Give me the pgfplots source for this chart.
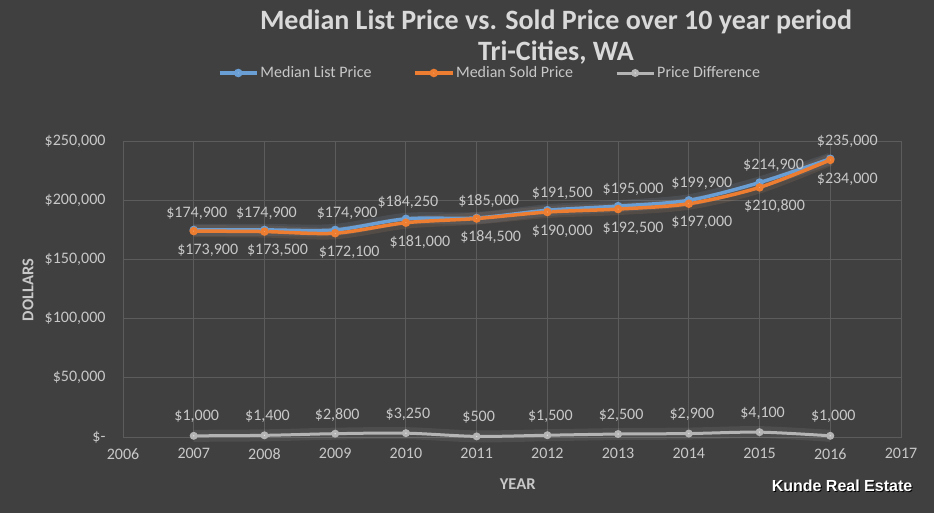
\documentclass[border=0pt]{standalone}
\usepackage{pgfplots}
\pgfplotsset{compat=1.18}
\usepackage{pgfplotstable}
\usepackage{fontspec}
\setmainfont{Carlito}
\newfontfamily\arialfont{Liberation Sans}
\definecolor{bg}{HTML}{404040}
\definecolor{gridc}{HTML}{5C5C5C}
\definecolor{txt}{HTML}{C8C8C8}
\definecolor{ttl}{HTML}{D9D9D9}
\definecolor{listc}{HTML}{6A9FD6}
\definecolor{soldc}{HTML}{ED7D31}
\definecolor{diffc}{HTML}{B4B4B4}
\definecolor{listm}{HTML}{D4E3F4}
\definecolor{soldm}{HTML}{FAD2B6}
\definecolor{diffm}{HTML}{E6E6E6}

\pgfplotstableread{
year list ldx sold sdx diff ddx
2007 174900 3 173900 14 1000 3
2008 174900 2 173500 13 1400 3
2009 174900 12 172100 14 2800 2
2010 184250 2 181000 14 3250 2
2011 185000 12 184500 14 500 2
2012 191500 15 190000 15 1500 3
2013 195000 15 192500 15 2500 3
2014 199900 13 197000 13 2900 3
2015 214900 14 210800 15 4100 3
2016 235000 17 234000 17 1000 3
}\datatable

\begin{document}
\begin{tikzpicture}
\fill[bg] (0pt,0pt) rectangle (934pt,513pt);
\useasboundingbox (0pt,0pt) rectangle (934pt,513pt);
\begin{axis}[
  at={(123pt,76pt)}, anchor=south west,
  scale only axis, width=778pt, height=296pt,
  xmin=2006, xmax=2017, ymin=0, ymax=250000,
  clip=false,
  scaled y ticks=false,
  axis background/.style={fill=bg},
  xtick={2006,2007,2008,2009,2010,2011,2012,2013,2014,2015,2016,2017},
  xticklabels={2006,2007,2008,2009,2010,2011,2012,2013,2014,2015,2016,2017},
  ytick={0,50000,100000,150000,200000,250000},
  yticklabels={{\$-},{\$50,000},{\$100,000},{\$150,000},{\$200,000},{\$250,000}},
  major tick length=0pt,
  grid=major,
  major grid style={color=gridc, line width=0.9pt},
  axis line style={color=gridc, line width=0.9pt},
  tick label style={font=\fontsize{16}{16}\selectfont, text=txt},
  yticklabel style={xshift=-14pt},
  xticklabel style={yshift=-8pt},
  xlabel={YEAR},
  xlabel style={at={(axis description cs:0.5073,0)}, anchor=center, yshift=-47pt,
    font=\bfseries\fontsize{16.5}{16.5}\selectfont, text=txt},
  ylabel={DOLLARS},
  ylabel style={at={(axis description cs:-0.122,0.497)}, anchor=center,
    font=\bfseries\fontsize{16.5}{16.5}\selectfont, text=txt},
  title={Median List Price vs. Sold Price over 10 year period\\Tri-Cities, WA},
  title style={at={(axis description cs:0.5566,1.33)}, anchor=center, align=center,
    font=\bfseries\fontsize{28}{31}\selectfont, text=ttl},
  legend columns=3,
  legend style={at={(axis description cs:0.4717,1.2297)}, anchor=center,
    draw=none, fill=none, text=txt, font=\fontsize{16}{16}\selectfont,
    /tikz/every even column/.append style={column sep=40pt}},
  legend image code/.code={\draw[mark repeat=2,mark phase=2,#1] plot coordinates {(0pt,0pt) (18.5pt,0pt) (37pt,0pt)};},
  every node near coord/.append style={font=\fontsize{16}{16}\selectfont, text=txt, anchor=center},
]
% glow layers
\addplot[forget plot, smooth, listc!60!white, opacity=0.10, line width=12pt] table[x=year,y=list] {\datatable};
\addplot[forget plot, smooth, soldc!60!white, opacity=0.10, line width=12pt] table[x=year,y=sold] {\datatable};
\addplot[forget plot, smooth, white, opacity=0.07, line width=12pt] table[x=year,y=diff] {\datatable};

\addplot[smooth, listc, line width=3.5pt, mark=*, mark size=2.4pt,
  mark options={fill=listm, draw=none},
  visualization depends on={\thisrow{ldx} \as \dx},
  nodes near coords={\$\pgfmathprintnumber[assume math mode=true,fixed,precision=0,1000 sep={,}]{\pgfplotspointmeta}},
  nodes near coords style={xshift=\dx pt, yshift=17pt}]
  table[x=year,y=list] {\datatable};
\addlegendentry{Median List Price}

\addplot[smooth, soldc, line width=3.5pt, mark=*, mark size=2.4pt,
  mark options={fill=soldm, draw=none},
  visualization depends on={\thisrow{sdx} \as \dx},
  nodes near coords={\$\pgfmathprintnumber[assume math mode=true,fixed,precision=0,1000 sep={,}]{\pgfplotspointmeta}},
  nodes near coords style={xshift=\dx pt, yshift=-19pt}]
  table[x=year,y=sold] {\datatable};
\addlegendentry{Median Sold Price}

\addplot[smooth, diffc, line width=3pt, mark=*, mark size=2.4pt,
  mark options={fill=diffm, draw=none},
  visualization depends on={\thisrow{ddx} \as \dx},
  nodes near coords={\$\pgfmathprintnumber[assume math mode=true,fixed,precision=0,1000 sep={,}]{\pgfplotspointmeta}},
  nodes near coords style={xshift=\dx pt, yshift=19pt}]
  table[x=year,y=diff] {\datatable};
\addlegendentry{Price Difference}
\end{axis}
\node[text=black, font=\arialfont\bfseries\fontsize{16}{16}\selectfont] at (843pt,26pt) {Kunde Real Estate};
\node[text=white, font=\arialfont\bfseries\fontsize{16}{16}\selectfont] at (842pt,27pt) {Kunde Real Estate};
\end{tikzpicture}
\end{document}
